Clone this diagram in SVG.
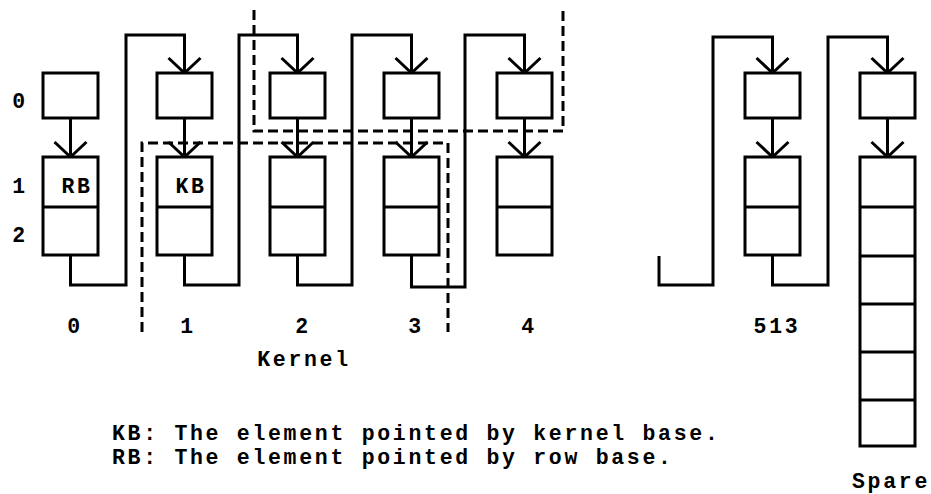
<svg xmlns="http://www.w3.org/2000/svg" width="931" height="494" viewBox="0 0 931 494">
<defs>
<marker id="v" markerUnits="userSpaceOnUse" markerWidth="40" markerHeight="40" refX="0" refY="0" orient="auto" overflow="visible">
<path d="M-15,-16 L0,0 L-15,16" fill="none" stroke="#000" stroke-width="3" stroke-linejoin="miter"/>
</marker>
</defs>
<style>
.box{fill:#fff;stroke:#000;stroke-width:3}
.div{stroke:#000;stroke-width:3}
.wire{fill:none;stroke:#000;stroke-width:3;stroke-linejoin:miter}
.arr{marker-end:url(#v)}
.dash{fill:none;stroke:#000;stroke-width:3;stroke-dasharray:10 5}
text{font-family:"Liberation Mono","Courier New",monospace;font-size:21.5px;font-weight:bold;letter-spacing:2.7px;fill:#000}
.c{text-anchor:middle}
</style>
<rect width="931" height="494" fill="#fff"/>
<g id="connectors">
<path class="wire arr" d="M70.5 255 V285 H126 V35 H184.5 V73"/>
<path class="wire arr" d="M184.5 255 V285 H239 V35 H297.5 V73"/>
<path class="wire arr" d="M297.5 255 V285 H352 V35 H411.5 V73"/>
<path class="wire arr" d="M411.5 255 V287 H465 V35 H524.5 V73"/>
<path class="wire arr" d="M659 256 V285 H713 V37 H772.5 V73"/>
<path class="wire arr" d="M772.5 255 V285 H828 V37 H887.5 V73"/>
<path class="wire arr" d="M70.5 118 V157"/>
<path class="wire arr" d="M184.5 118 V157"/>
<path class="wire arr" d="M297.5 118 V157"/>
<path class="wire arr" d="M411.5 118 V157"/>
<path class="wire arr" d="M524.5 118 V157"/>
<path class="wire arr" d="M772.5 118 V157"/>
<path class="wire arr" d="M887.5 118 V157"/>
</g>
<g id="col0">
<rect class="box" x="43" y="73" width="55" height="45"/>
<rect class="box" x="43" y="157" width="55" height="98"/>
<line class="div" x1="43" y1="207" x2="98" y2="207"/>
<text x="77" y="193" class="c">RB</text>
<text x="75" y="333" class="c">0</text>
</g>
<g id="col1">
<rect class="box" x="157" y="73" width="55" height="45"/>
<rect class="box" x="157" y="157" width="55" height="98"/>
<line class="div" x1="157" y1="207" x2="212" y2="207"/>
<text x="191" y="193" class="c">KB</text>
<text x="188" y="333" class="c">1</text>
</g>
<g id="col2">
<rect class="box" x="270" y="73" width="55" height="45"/>
<rect class="box" x="270" y="157" width="55" height="98"/>
<line class="div" x1="270" y1="207" x2="325" y2="207"/>
<text x="303" y="333" class="c">2</text>
</g>
<g id="col3">
<rect class="box" x="384" y="73" width="55" height="45"/>
<rect class="box" x="384" y="157" width="55" height="98"/>
<line class="div" x1="384" y1="207" x2="439" y2="207"/>
<text x="416" y="333" class="c">3</text>
</g>
<g id="col4">
<rect class="box" x="497" y="73" width="55" height="45"/>
<rect class="box" x="497" y="157" width="55" height="98"/>
<line class="div" x1="497" y1="207" x2="552" y2="207"/>
<text x="529" y="333" class="c">4</text>
</g>
<g id="col513">
<rect class="box" x="745" y="73" width="55" height="45"/>
<rect class="box" x="745" y="157" width="55" height="98"/>
<line class="div" x1="745" y1="207" x2="800" y2="207"/>
<text x="777" y="333" class="c">513</text>
</g>
<g id="spare">
<rect class="box" x="860" y="73" width="55" height="45"/>
<rect class="box" x="860" y="157" width="55" height="289"/>
<line class="div" x1="860" y1="207" x2="915" y2="207"/>
<line class="div" x1="860" y1="256" x2="915" y2="256"/>
<line class="div" x1="860" y1="304" x2="915" y2="304"/>
<line class="div" x1="860" y1="352" x2="915" y2="352"/>
<line class="div" x1="860" y1="400" x2="915" y2="400"/>
<text x="891" y="488" class="c">Spare</text>
</g>
<g id="groups">
<path class="dash" d="M254 10 V131 H563 V10"/>
<path class="dash" d="M142 332 V143 H448 V332"/>
</g>
<g id="labels">
<text x="20" y="108" class="c">0</text>
<text x="20" y="193" class="c">1</text>
<text x="20" y="242" class="c">2</text>
<text x="304" y="366" class="c">Kernel</text>
<text x="112" y="440">KB: The element pointed by kernel base.</text>
<text x="112" y="464">RB: The element pointed by row base.</text>
</g>
</svg>
